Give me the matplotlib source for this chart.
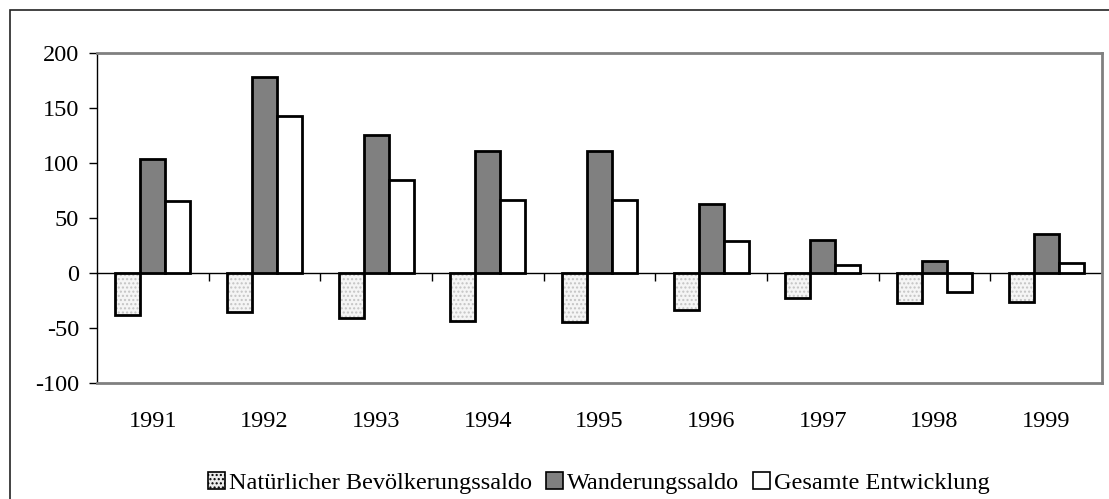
import numpy as np
import matplotlib.pyplot as plt
from matplotlib.patches import Patch, Rectangle

plt.rcParams['font.family'] = ['Liberation Serif', 'DejaVu Serif']
plt.rcParams['axes.unicode_minus'] = False

years = ["1991", "1992", "1993", "1994", "1995", "1996", "1997", "1998", "1999"]
natuerlich = [-38, -35.5, -40.5, -44, -45, -34, -23, -27.5, -26.5]
wanderung = [103.5, 178.5, 125, 110.5, 111, 63, 30, 11, 35.5]
gesamt = [65.5, 143, 84.5, 66.5, 66.5, 29.5, 7.5, -17, 9.5]
labels = ["Natürlicher Bevölkerungssaldo", "Wanderungssaldo", "Gesamte Entwicklung"]

FS = 17.5

fig = plt.figure(figsize=(11.09, 4.99), dpi=100)
ax = fig.add_axes([0.0875, 0.2325, 0.9062, 0.6613])

x = np.arange(len(years))
w = 0.224
ymin, ymax = -100, 200

# natuerlicher Saldo: hell gepunktet, zwei Durchgaenge fuer die Schraffur
ax.bar(x - w, natuerlich, w, color='#f5f5f5', edgecolor='#c4c4c4', hatch='....', lw=0, zorder=2)
ax.bar(x - w, natuerlich, w, fill=False, edgecolor='black', lw=2, zorder=3)
ax.bar(x, wanderung, w, color='#808080', edgecolor='black', lw=2, zorder=3)
ax.bar(x + w, gesamt, w, color='white', edgecolor='black', lw=2, zorder=3)

ax.set_xlim(-0.5, len(years) - 0.5)
ax.set_ylim(ymin, ymax)
ax.set_yticks(range(ymin, ymax + 1, 50))
ax.tick_params(axis='y', direction='out', length=6, width=1, labelsize=FS, pad=7, color='black')

ax.set_xticks(x, years)
ax.tick_params(axis='x', length=0, labelsize=FS, pad=20)

for s in ['top', 'right', 'bottom']:
    ax.spines[s].set_color('#808080')
    ax.spines[s].set_linewidth(2)
ax.spines['left'].set_color('black')
ax.spines['left'].set_linewidth(1)

# Kategorienachse bei Null mit Teilstrichen zwischen den Jahren
zero_pos = (0 - ymin) / (ymax - ymin)
sec = ax.secondary_xaxis(zero_pos)
sec.spines['bottom'].set_color('black')
sec.spines['bottom'].set_linewidth(1)
sec.set_xticks(np.arange(len(years) - 1) + 0.5)
sec.set_xticklabels([])
sec.tick_params(axis='x', direction='out', length=6, width=1, color='black')

# Rahmen um das Diagramm (rechts und unten abgeschnitten)
fig.patches.append(Rectangle((10 / 1109, -0.1), 1.2, 1 - 10 / 499 + 0.1,
                             transform=fig.transFigure, fill=False,
                             edgecolor='#222222', lw=1.2))

handles = [
    Patch(facecolor='#ececec', edgecolor='black', lw=1.2, hatch='....'),
    Patch(facecolor='#808080', edgecolor='black', lw=1.2),
    Patch(facecolor='white', edgecolor='black', lw=1.2),
]
fig.legend(handles, labels, loc='center', bbox_to_anchor=(0.54, 0.033), ncol=3,
           frameon=False, fontsize=FS, handlelength=0.7, handleheight=0.7,
           handletextpad=0.15, columnspacing=0.6, borderpad=0)

fig.savefig('out.png', dpi=100)
